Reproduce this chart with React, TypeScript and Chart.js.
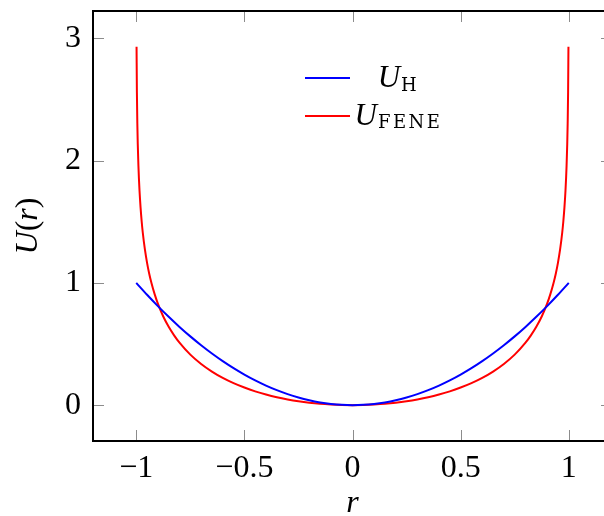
import React, { useEffect, useRef } from 'react';
import { Chart, registerables } from 'chart.js';

Chart.register(...registerables);

// Harmonic potential U_H(r)
const rH = [-1, -0.95, -0.9, -0.85, -0.8, -0.75, -0.7, -0.65, -0.6, -0.55, -0.5, -0.45, -0.4, -0.35, -0.3, -0.25, -0.2, -0.15, -0.1, -0.05, 0,
  0.05, 0.1, 0.15, 0.2, 0.25, 0.3, 0.35, 0.4, 0.45, 0.5, 0.55, 0.6, 0.65, 0.7, 0.75, 0.8, 0.85, 0.9, 0.95, 1];
const uH = [1, 0.9025, 0.81, 0.7225, 0.64, 0.5625, 0.49, 0.4225, 0.36, 0.3025, 0.25, 0.2025, 0.16, 0.1225, 0.09, 0.0625, 0.04, 0.0225, 0.01, 0.0025, 0,
  0.0025, 0.01, 0.0225, 0.04, 0.0625, 0.09, 0.1225, 0.16, 0.2025, 0.25, 0.3025, 0.36, 0.4225, 0.49, 0.5625, 0.64, 0.7225, 0.81, 0.9025, 1];

// FENE potential U_FENE(r)
const rFENE = [-0.9986, -0.997, -0.995, -0.993, -0.99, -0.985, -0.98, -0.975, -0.97, -0.96, -0.95, -0.94, -0.93, -0.915, -0.9, -0.875, -0.85, -0.825, -0.8,
  -0.75, -0.7, -0.65, -0.6, -0.55, -0.5, -0.45, -0.4, -0.35, -0.3, -0.25, -0.2, -0.15, -0.1, -0.05, 0,
  0.05, 0.1, 0.15, 0.2, 0.25, 0.3, 0.35, 0.4, 0.45, 0.5, 0.55, 0.6, 0.65, 0.7, 0.75,
  0.8, 0.825, 0.85, 0.875, 0.9, 0.915, 0.93, 0.94, 0.95, 0.96, 0.97, 0.975, 0.98, 0.985, 0.99, 0.993, 0.995, 0.997, 0.9986];
const uFENE = [2.93, 2.559, 2.304, 2.136, 1.959, 1.757, 1.615, 1.504, 1.414, 1.273, 1.164, 1.075, 1.001, 0.908, 0.830, 0.725, 0.641, 0.571, 0.511,
  0.413, 0.337, 0.275, 0.223, 0.180, 0.144, 0.113, 0.087, 0.065, 0.047, 0.032, 0.020, 0.011, 0.005, 0.001, 0,
  0.001, 0.005, 0.011, 0.020, 0.032, 0.047, 0.065, 0.087, 0.113, 0.144, 0.180, 0.223, 0.275, 0.337, 0.413,
  0.511, 0.571, 0.641, 0.725, 0.830, 0.908, 1.001, 1.075, 1.164, 1.273, 1.414, 1.504, 1.615, 1.757, 1.959, 2.136, 2.304, 2.559, 2.93];

const xTicks = [-1, -0.5, 0, 0.5, 1];
const yTicks = [0, 1, 2, 3];
const xRange = [-1.2, 1.2];
const yRange = [-0.293, 3.223];

const seriesNames = ['H', 'FENE'];
const seriesColors = ['#0000ff', '#ff0000'];

const FONT = '"Liberation Serif", "Times New Roman", serif';
const SUBFONT = '"DejaVu Serif", "Liberation Serif", serif';

const fmt = (v: number) => (v < 0 ? '\u2212' + Math.abs(v) : String(v));

const framePlugin = {
  id: 'frameTicks',
  afterDatasetsDraw(chart: any) {
    const { ctx, chartArea } = chart;
    const { left, right, top, bottom } = chartArea;
    const xs = chart.scales.x;
    const ys = chart.scales.y;
    const tl = 11;
    ctx.save();
    ctx.strokeStyle = '#8c8c8c';
    ctx.lineWidth = 1;
    ctx.beginPath();
    xTicks.forEach((v) => {
      const px = Math.round(xs.getPixelForValue(v)) + 0.5;
      ctx.moveTo(px, bottom);
      ctx.lineTo(px, bottom - tl);
      ctx.moveTo(px, top);
      ctx.lineTo(px, top + tl);
    });
    yTicks.forEach((v) => {
      const py = Math.round(ys.getPixelForValue(v)) + 0.5;
      ctx.moveTo(left, py);
      ctx.lineTo(left + tl, py);
      ctx.moveTo(right, py);
      ctx.lineTo(right - tl, py);
    });
    ctx.stroke();
    ctx.strokeStyle = '#000';
    ctx.lineWidth = 2;
    ctx.strokeRect(left, top, right - left, bottom - top);
    ctx.restore();
  },
  afterDraw(chart: any) {
    const { ctx, chartArea } = chart;
    ctx.save();
    ctx.fillStyle = '#000';
    ctx.textBaseline = 'alphabetic';
    // Y-axis title U(r), rotated
    const parts: [string, string][] = [
      ['U', `italic 32px ${FONT}`],
      ['(', `32px ${FONT}`],
      ['r', `italic 32px ${FONT}`],
      [')', `32px ${FONT}`],
    ];
    let total = 0;
    const widths = parts.map(([t, f]) => {
      ctx.font = f;
      const w = ctx.measureText(t).width;
      total += w;
      return w;
    });
    const cy = (chartArea.top + chartArea.bottom) / 2;
    ctx.translate(37, cy);
    ctx.rotate(-Math.PI / 2);
    let x = -total / 2;
    parts.forEach(([t, f], i) => {
      ctx.font = f;
      ctx.fillText(t, x, 0);
      x += widths[i];
    });
    ctx.restore();

    // Legend
    ctx.save();
    const lineX0 = 305;
    const lineX1 = 350;
    const rowsY = [78, 116];
    const baseY = [87, 124.5];
    const textCenter = 398;
    seriesNames.forEach((name, i) => {
      ctx.strokeStyle = seriesColors[i];
      ctx.lineWidth = 2;
      ctx.beginPath();
      ctx.moveTo(lineX0, rowsY[i]);
      ctx.lineTo(lineX1, rowsY[i]);
      ctx.stroke();
      ctx.fillStyle = '#000';
      ctx.font = `italic 31px ${FONT}`;
      const wU = ctx.measureText('U').width;
      ctx.font = `18px ${SUBFONT}`;
      (ctx as any).letterSpacing = '2.5px';
      const wS = ctx.measureText(name).width;
      const start = textCenter - (wU + wS) / 2;
      (ctx as any).letterSpacing = '0px';
      ctx.font = `italic 31px ${FONT}`;
      ctx.fillText('U', start, baseY[i]);
      ctx.font = `18px ${SUBFONT}`;
      (ctx as any).letterSpacing = '2.5px';
      ctx.fillText(name, start + wU + 1, baseY[i] + 3.5);
      (ctx as any).letterSpacing = '0px';
    });
    ctx.restore();
  },
};

export default function App() {
  const ref = useRef<HTMLCanvasElement | null>(null);
  useEffect(() => {
    if (!ref.current) return;
    const chart = new Chart(ref.current, {
      type: 'line',
      data: {
        datasets: [
          {
            label: 'U_H',
            data: rH.map((r, i) => ({ x: r, y: uH[i] })),
            borderColor: seriesColors[0],
            borderWidth: 2,
            pointRadius: 0,
            fill: false,
            cubicInterpolationMode: 'monotone',
          },
          {
            label: 'U_FENE',
            data: rFENE.map((r, i) => ({ x: r, y: uFENE[i] })),
            borderColor: seriesColors[1],
            borderWidth: 2,
            pointRadius: 0,
            fill: false,
            cubicInterpolationMode: 'monotone',
          },
        ],
      },
      options: {
        animation: false,
        responsive: false,
        devicePixelRatio: 1,
        layout: { padding: { top: 11, right: 8, left: 0, bottom: 0 } },
        plugins: { legend: { display: false }, tooltip: { enabled: false } },
        scales: {
          x: {
            type: 'linear',
            min: xRange[0],
            max: xRange[1],
            afterBuildTicks: (s: any) => {
              s.ticks = xTicks.map((v) => ({ value: v }));
            },
            afterFit: (s: any) => {
              s.height = 75;
              s.paddingLeft = 0;
              s.paddingRight = 0;
            },
            grid: { display: false, drawTicks: false },
            border: { display: false },
            ticks: {
              color: '#000',
              padding: 8,
              maxRotation: 0,
              font: { family: FONT, size: 32 },
              callback: (v: any) => fmt(Number(v)),
            },
            title: {
              display: true,
              text: 'r',
              color: '#000',
              font: { family: FONT, size: 32, style: 'italic', lineHeight: 0.8 },
              padding: { top: 0, bottom: 0 },
            },
          },
          y: {
            type: 'linear',
            min: yRange[0],
            max: yRange[1],
            afterBuildTicks: (s: any) => {
              s.ticks = yTicks.map((v) => ({ value: v }));
            },
            afterFit: (s: any) => {
              s.width = 93;
              s.paddingTop = 0;
              s.paddingBottom = 0;
            },
            grid: { display: false, drawTicks: false },
            border: { display: false },
            ticks: {
              color: '#000',
              padding: 12,
              font: { family: FONT, size: 32 },
              callback: (v: any) => fmt(Number(v)),
            },
          },
        },
      },
      plugins: [framePlugin],
    } as any);
    return () => chart.destroy();
  }, []);
  return (
    <div style={{ position: 'fixed', left: 0, top: 0, width: 604, height: 516, overflow: 'hidden', background: '#fff' }}>
      <canvas ref={ref} width={620} height={516} style={{ display: 'block', width: 620, height: 516 }} />
    </div>
  );
}
